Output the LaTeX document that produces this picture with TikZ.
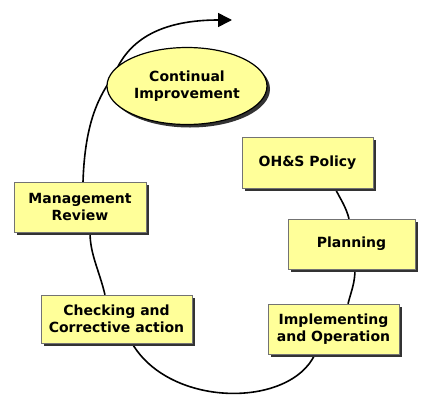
\documentclass[tikz,border=0pt]{standalone}
\usepackage{fontspec}
\setmainfont{DejaVu Sans}
\usetikzlibrary{shapes.geometric,shadows,arrows.meta,backgrounds}
\definecolor{boxyellow}{RGB}{255,255,153}
\begin{document}
\begin{tikzpicture}[x=1pt, y=-1pt,
    stage/.style={draw=black!55, fill=boxyellow, inner sep=0pt, align=center,
      font=\fontsize{14}{17}\selectfont\bfseries,
      drop shadow={shadow xshift=3pt, shadow yshift=-3pt, fill=black!80, opacity=1}},
    cyc/.style={line width=1.6pt}]
  \useasboundingbox (0,0) rectangle (422,394);
  \node[stage, ellipse, draw=black, line width=1.2pt, minimum width=160pt, minimum height=77pt] (ci) at (187,86) {Continual\\Improvement};
  \node[stage, minimum width=131pt, minimum height=51pt] (pol) at (307.5,162.5) {OH\&S Policy};
  \node[stage, minimum width=127pt, minimum height=50pt] (pla) at (351.5,244) {Planning};
  \node[stage, minimum width=131pt, minimum height=50pt] (imp) at (333.5,329) {Implementing\\and Operation};
  \node[stage, minimum width=151pt, minimum height=48pt] (chk) at (116.5,319) {Checking and\\Corrective action};
  \node[stage, minimum width=132pt, minimum height=50pt] (mgt) at (80,207) {Management\\Review};
  \coordinate (hid) at (114,75);
  \coordinate (tip) at (232,20);
  \begin{scope}[on background layer]
    \draw[cyc] ([xshift=27.5pt]pol.south) .. controls +(6,12) and +(-3,-12) .. ([xshift=-2.5pt]pla.north);
    \draw[cyc] ([xshift=3.5pt]pla.south) .. controls +(0,14) and +(3,-12) .. ([xshift=14.5pt]imp.north);
    \draw[cyc] ([xshift=-18.5pt]imp.south) .. controls +(-25,54) and +(38,65) .. ([xshift=15.5pt]chk.south);
    \draw[cyc] ([xshift=-11.5pt]chk.north) .. controls +(-6,-25) and +(0,22) .. ([xshift=10pt]mgt.south);
    \draw[cyc, -{Triangle[length=14pt, width=14pt]}] ([xshift=3pt]mgt.north) .. controls +(2,-62) and +(-14,20) .. (hid)
      .. controls +(11,-27) and +(-82,0) .. (tip);
  \end{scope}
\end{tikzpicture}
\end{document}
